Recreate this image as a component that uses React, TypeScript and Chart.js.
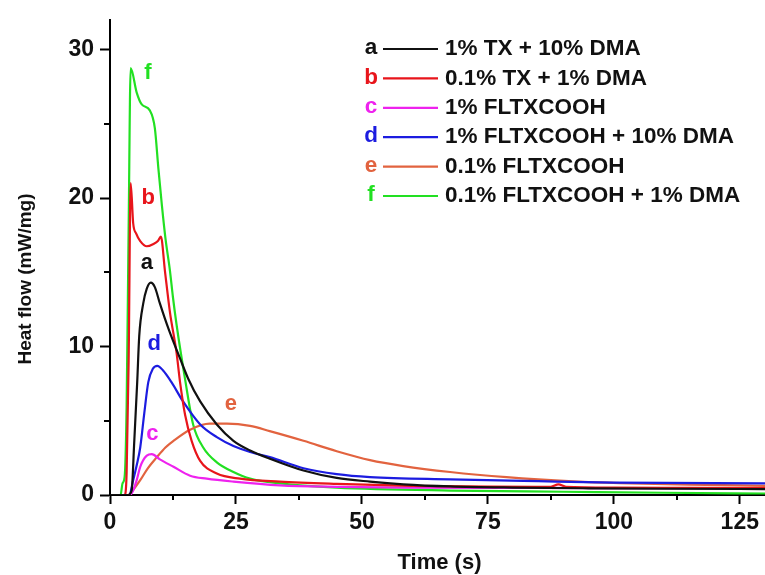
import React, { useEffect, useRef } from 'react';
import { Chart, registerables } from 'chart.js';

Chart.register(...registerables);

// ---- data ----
const seriesLetters = ['a', 'b', 'c', 'd', 'e', 'f'];
const seriesNames = [
  '1% TX + 10% DMA',
  '0.1% TX + 1% DMA',
  '1% FLTXCOOH',
  '1% FLTXCOOH + 10% DMA',
  '0.1% FLTXCOOH',
  '0.1% FLTXCOOH + 1% DMA',
];
const seriesColors = ['#111111', '#e8151b', '#ee22ee', '#1c1ce0', '#e2633f', '#22e022'];

const aTime = [0, 3.6, 4.3, 4.8, 5.4, 5.8, 6.6, 7.3, 8.1, 8.9, 9.9, 11.6, 13.9, 15.5, 17.9, 21.2, 24.5, 27.8, 31.7, 38.4, 45, 51.6, 58.2, 67.5, 80, 95, 110, 130];
const aHeat = [0, 0, 0.3, 3.5, 7.6, 10.7, 12.9, 13.9, 14.3, 14.0, 12.9, 11.2, 9.2, 7.85, 6.3, 4.75, 3.65, 3.0, 2.45, 1.65, 1.15, 0.9, 0.72, 0.58, 0.5, 0.45, 0.42, 0.4];

const bTime = [0, 2.9, 3.3, 3.7, 4.1, 4.6, 5.2, 6.0, 7.3, 8.6, 9.5, 10.1, 10.9, 11.9, 13.2, 13.9, 14.9, 16.2, 17.9, 21.2, 25.8, 33.7, 45, 60, 75, 87.5, 89, 90.5, 100, 115, 130];
const bHeat = [0, 0, 1.5, 9, 21.0, 18.3, 17.6, 17.1, 16.75, 16.9, 17.1, 17.4, 15.1, 12.3, 9.6, 7.6, 5.4, 3.65, 2.3, 1.45, 1.1, 0.9, 0.75, 0.62, 0.56, 0.55, 0.72, 0.55, 0.5, 0.48, 0.46];

const cTime = [0, 4.0, 4.6, 5.3, 6.0, 7.3, 8.3, 9.9, 12.6, 15.9, 19.2, 24.5, 33.7, 45, 60, 80, 100, 130];
const cHeat = [0, 0, 0.3, 1.0, 1.9, 2.65, 2.75, 2.4, 1.9, 1.3, 1.1, 0.9, 0.65, 0.55, 0.5, 0.48, 0.46, 0.45];

const dTime = [0, 3.8, 4.6, 5.3, 6.0, 6.8, 7.6, 8.5, 9.4, 10.5, 12.2, 14.5, 17.9, 21.2, 24.5, 27.8, 31.7, 38.4, 45, 51.6, 67.5, 85, 100, 130];
const dHeat = [0, 0, 1.0, 2.0, 3.2, 5.5, 7.6, 8.5, 8.7, 8.4, 7.6, 6.3, 4.75, 3.9, 3.3, 2.9, 2.55, 1.8, 1.4, 1.2, 1.05, 0.93, 0.84, 0.78];

const eTime = [0, 3.6, 4.5, 6.0, 7.5, 9.3, 11, 12.6, 15.9, 19.8, 23.2, 27.8, 31.7, 38.4, 45, 51.6, 58.2, 67.5, 78.7, 91.9, 101.2, 115, 130];
const eHeat = [0, 0, 0.3, 1.0, 1.8, 2.55, 3.2, 3.65, 4.4, 4.8, 4.8, 4.65, 4.3, 3.65, 2.95, 2.35, 1.95, 1.55, 1.2, 0.92, 0.8, 0.7, 0.62];

const fTime = [0, 2.1, 2.5, 2.9, 3.3, 3.7, 4.1, 5.3, 6.3, 7.9, 8.9, 9.6, 10.3, 11.0, 11.9, 12.5, 13.2, 14.9, 16.5, 18.5, 21.2, 24.5, 27.8, 33.7, 45, 67.5, 90, 110, 130];
const fHeat = [0, 0, 0.8, 1.2, 6, 18, 28.75, 27.1, 26.3, 25.9, 24.7, 22.0, 19.5, 17.3, 15.1, 13.3, 11.5, 7.8, 4.75, 3.2, 2.2, 1.55, 1.1, 0.78, 0.5, 0.3, 0.22, 0.15, 0.1];

const seriesTimes = [aTime, bTime, cTime, dTime, eTime, fTime];
const seriesHeats = [aHeat, bHeat, cHeat, dHeat, eHeat, fHeat];

// curve letter label anchors (data units)
const labelTimes = [7.3, 7.6, 8.4, 8.8, 24.0, 7.5];
const labelHeats = [15.6, 20.0, 4.1, 10.2, 6.1, 28.4];

const xMajorTicks = [0, 25, 50, 75, 100, 125];
const xMinorTicks = [12.5, 37.5, 62.5, 87.5, 112.5];
const yMajorTicks = [0, 10, 20, 30];
const yMinorTicks = [5, 15, 25];

const xTitle = 'Time (s)';
const yTitle = 'Heat flow (mW/mg)';

const BOLD_FAMILY = "'Liberation Sans', Arial, sans-serif";

const decorPlugin = {
  id: 'decor',
  afterDraw(chart: any) {
    const ctx = chart.ctx;
    const xs = chart.scales.x;
    const ys = chart.scales.y;
    const area = chart.chartArea;
    ctx.save();
    // minor ticks
    ctx.strokeStyle = '#000';
    ctx.lineWidth = 2;
    xMinorTicks.forEach((v) => {
      const px = Math.round(xs.getPixelForValue(v));
      ctx.beginPath();
      ctx.moveTo(px, area.bottom);
      ctx.lineTo(px, area.bottom + 5);
      ctx.stroke();
    });
    yMinorTicks.forEach((v) => {
      const py = Math.round(ys.getPixelForValue(v));
      ctx.beginPath();
      ctx.moveTo(area.left, py);
      ctx.lineTo(area.left - 6, py);
      ctx.stroke();
    });

    // curve letters
    ctx.font = `bold 22px ${BOLD_FAMILY}`;
    ctx.textAlign = 'center';
    ctx.textBaseline = 'middle';
    seriesLetters.forEach((l, i) => {
      ctx.fillStyle = seriesColors[i];
      ctx.fillText(l, xs.getPixelForValue(labelTimes[i]), ys.getPixelForValue(labelHeats[i]));
    });

    // legend
    seriesLetters.forEach((l, i) => {
      const y = 48 + i * 29.4;
      ctx.fillStyle = seriesColors[i];
      ctx.textAlign = 'center';
      ctx.font = `bold 22.5px ${BOLD_FAMILY}`;
      ctx.fillText(l, 371, y);
      ctx.strokeStyle = seriesColors[i];
      ctx.lineWidth = 2.2;
      ctx.beginPath();
      ctx.moveTo(383, y + 1);
      ctx.lineTo(438, y + 1);
      ctx.stroke();
      ctx.fillStyle = '#111';
      ctx.textAlign = 'left';
      ctx.fillText(seriesNames[i], 445, y + 1);
    });

    // axis titles
    ctx.fillStyle = '#111';
    ctx.textAlign = 'center';
    ctx.textBaseline = 'middle';
    ctx.font = `bold 22px ${BOLD_FAMILY}`;
    ctx.fillText(xTitle, (area.left + area.right) / 2 + 2, 563);
    ctx.save();
    ctx.translate(26, 279);
    ctx.rotate(-Math.PI / 2);
    ctx.font = `bold 19px ${BOLD_FAMILY}`;
    ctx.fillText(yTitle, 0, 0);
    ctx.restore();
    ctx.restore();
  },
};

export default function App() {
  const ref = useRef<HTMLCanvasElement | null>(null);

  useEffect(() => {
    if (!ref.current) return;
    const datasets = seriesLetters.map((l, i) => ({
      label: l,
      data: seriesTimes[i].map((t, k) => ({ x: t, y: seriesHeats[i][k] })),
      borderColor: seriesColors[i],
      backgroundColor: seriesColors[i],
      borderWidth: 2.2,
      pointRadius: 0,
      fill: false,
      cubicInterpolationMode: 'monotone' as const,
    }));

    const chart = new Chart(ref.current, {
      type: 'line',
      data: { datasets },
      options: {
        animation: false,
        responsive: false,
        maintainAspectRatio: false,
        layout: { padding: { top: 13, right: 0, left: 0, bottom: 0 } },
        plugins: {
          legend: { display: false },
          tooltip: { enabled: false },
        },
        scales: {
          x: {
            type: 'linear',
            min: 0,
            max: 130,
            afterFit: (s: any) => {
              s.height = 80;
            },
            afterBuildTicks: (s: any) => {
              s.ticks = xMajorTicks.map((v) => ({ value: v }));
            },
            border: { display: true, color: '#000', width: 2 },
            grid: {
              display: true,
              drawOnChartArea: false,
              drawTicks: true,
              tickLength: 9,
              tickColor: '#000',
              tickWidth: 2,
            },
            ticks: {
              color: '#111',
              padding: 5,
              maxRotation: 0,
              autoSkip: false,
              font: { family: BOLD_FAMILY, size: 23, weight: 'bold' },
              callback: (v: any) => String(v),
            },
          },
          y: {
            type: 'linear',
            min: 0,
            max: 32,
            afterFit: (s: any) => {
              s.width = 110;
            },
            afterBuildTicks: (s: any) => {
              s.ticks = yMajorTicks.map((v) => ({ value: v }));
            },
            border: { display: true, color: '#000', width: 2 },
            grid: {
              display: true,
              drawOnChartArea: false,
              drawTicks: true,
              tickLength: 10,
              tickColor: '#000',
              tickWidth: 2,
            },
            ticks: {
              color: '#111',
              padding: 6,
              autoSkip: false,
              font: { family: BOLD_FAMILY, size: 23, weight: 'bold' },
              callback: (v: any) => String(v),
            },
          },
        },
      },
      plugins: [decorPlugin],
    });
    return () => chart.destroy();
  }, []);

  return (
    <canvas
      ref={ref}
      width={765}
      height={575}
      style={{ position: 'absolute', left: 0, top: 0, width: 765, height: 575 }}
    />
  );
}
